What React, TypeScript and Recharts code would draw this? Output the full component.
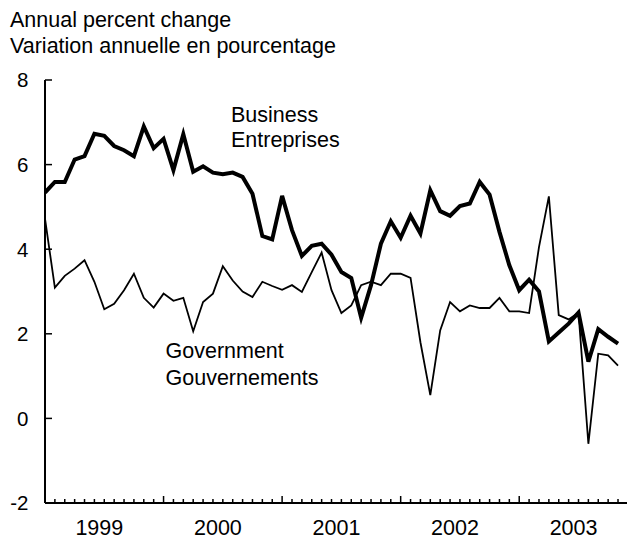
import React from 'react';
import { LineChart, Line, XAxis, YAxis } from 'recharts';

const years = ['1999', '2000', '2001', '2002', '2003'];

// Monthly values, Jan 1999 - Nov 2003
const business = [
  5.34, 5.59, 5.59, 6.12, 6.2, 6.73, 6.68, 6.44, 6.34, 6.2,
  6.9, 6.39, 6.61, 5.87, 6.72, 5.83, 5.96, 5.81, 5.77, 5.81,
  5.71, 5.31, 4.31, 4.23, 5.26, 4.45, 3.84, 4.08, 4.13, 3.87,
  3.46, 3.32, 2.38, 3.15, 4.13, 4.66, 4.27, 4.79, 4.37, 5.39,
  4.9, 4.79, 5.02, 5.08, 5.59, 5.29, 4.41, 3.62, 3.03, 3.28,
  3.0, 1.82, 2.03, 2.24, 2.5, 1.34, 2.11, 1.93, 1.77,
];

const government = [
  4.72, 3.09, 3.37, 3.54, 3.74, 3.23, 2.58, 2.71, 3.03, 3.42,
  2.85, 2.62, 2.95, 2.78, 2.85, 2.06, 2.75, 2.95, 3.6, 3.26,
  3.0, 2.87, 3.23, 3.13, 3.04, 3.15, 2.99, 3.46, 3.92, 3.03,
  2.49, 2.67, 3.15, 3.23, 3.15, 3.42, 3.42, 3.32, 1.8, 0.55,
  2.08, 2.75, 2.53, 2.67, 2.61, 2.61, 2.85, 2.53, 2.53, 2.49,
  4.05, 5.25, 2.44, 2.34, 2.5, -0.6, 1.53, 1.49, 1.25,
];

const yTicks = [-2, 0, 2, 4, 6, 8];

const data = business.map((b, i) => ({ i, business: b, government: government[i] }));
const monthTicks = Array.from({ length: 60 }, (_, i) => i);
const yearLabelTicks = years.map((_, k) => k * 12 + 5.5);
const xTicks = [...monthTicks, ...yearLabelTicks];

const FONT = '"Liberation Sans", Arial, Helvetica, sans-serif';
const FS = 21.5;

const XTick = (props: any) => {
  const { x, y, payload } = props;
  const v = payload.value as number;
  if (Number.isInteger(v)) {
    const len = v % 12 === 0 ? 7 : 4;
    return <line x1={x} y1={y} x2={x} y2={y - len} stroke="#000" strokeWidth={1.5} />;
  }
  const label = years[Math.floor(v / 12)];
  return (
    <text x={x} y={y + 32} textAnchor="middle" fontSize={FS} fontFamily={FONT} fill="#000">
      {label}
    </text>
  );
};

const YTick = (props: any) => {
  const { x, y, payload } = props;
  return (
    <g>
      <line x1={x} y1={y} x2={x + 7} y2={y} stroke="#000" strokeWidth={1.5} />
      <text x={x - 16.5} y={y + 7.3} textAnchor="end" fontSize={20.5} fontFamily={FONT} fill="#000">
        {payload.value}
      </text>
    </g>
  );
};

export default function App() {
  return (
    <div
      style={{
        position: 'fixed',
        left: 0,
        top: 0,
        width: 627,
        height: 540,
        overflow: 'hidden',
        background: '#fff',
      }}
    >
      <LineChart
        width={660}
        height={540}
        data={data}
        margin={{ top: 80, right: 32.1, left: 0, bottom: 0 }}
      >
        <XAxis
          dataKey="i"
          type="number"
          domain={[0, 59]}
          ticks={xTicks}
          interval={0}
          height={37}
          tickSize={0}
          tickMargin={0}
          tickLine={false}
          axisLine={{ stroke: '#000', strokeWidth: 2 }}
          tick={<XTick />}
          allowDataOverflow
        />
        <YAxis
          type="number"
          domain={[-2, 8]}
          ticks={yTicks}
          interval={0}
          width={45}
          tickSize={0}
          tickMargin={0}
          tickLine={false}
          axisLine={{ stroke: '#000', strokeWidth: 2 }}
          tick={<YTick />}
          allowDataOverflow
        />
        <Line
          type="linear"
          dataKey="government"
          stroke="#000"
          strokeWidth={1.8}
          dot={false}
          activeDot={false}
          isAnimationActive={false}
        />
        <Line
          type="linear"
          dataKey="business"
          stroke="#000"
          strokeWidth={4}
          dot={false}
          activeDot={false}
          isAnimationActive={false}
        />
      </LineChart>
      <svg
        width={627}
        height={540}
        style={{ position: 'absolute', left: 0, top: 0, pointerEvents: 'none' }}
      >
        <g fontFamily={FONT} fontSize={FS} fill="#000">
          <text x={10} y={26.7}>Annual percent change</text>
          <text x={10} y={53.3}>Variation annuelle en pourcentage</text>
          <text x={231} y={121.7}>Business</text>
          <text x={231} y={147.3}>Entreprises</text>
          <text x={165.5} y={358.3}>Government</text>
          <text x={165.5} y={385}>Gouvernements</text>
        </g>
      </svg>
    </div>
  );
}
